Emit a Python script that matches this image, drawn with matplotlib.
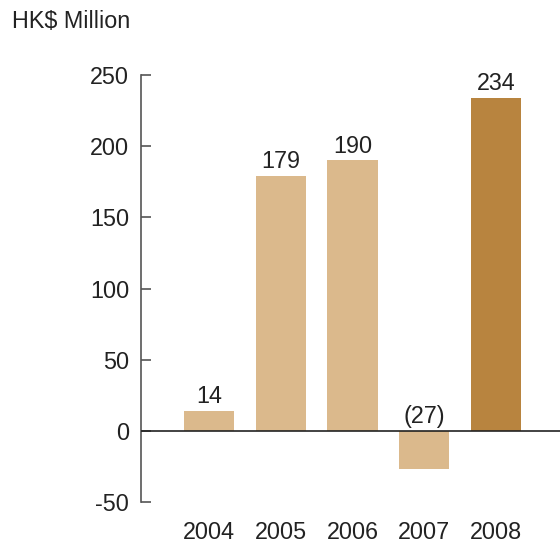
import numpy as np
import matplotlib
matplotlib.use("Agg")
import matplotlib.pyplot as plt

# data
years = ["2004", "2005", "2006", "2007", "2008"]
values = [14, 179, 190, -27, 234]
labels = ["14", "179", "190", "(27)", "234"]
colors = ["#DBB98C", "#DBB98C", "#DBB98C", "#DBB98C", "#B8843F"]
yticks = [-50, 0, 50, 100, 150, 200, 250]

plt.rcParams['font.family'] = ['Liberation Sans', 'DejaVu Sans']
fs = 16.8

fig = plt.figure(figsize=(5.6, 5.43), dpi=100)
ax = fig.add_axes([141/560, 41/543, 419/560, 427/543])

x = np.arange(len(years))
ax.bar(x, values, width=0.70, color=colors, edgecolor="none", zorder=2)

# zero line
ax.axhline(0, color="#222222", lw=1.2, zorder=3)

# value labels
for xi, v, lab in zip(x, values, labels):
    yv = max(v, 0)
    ax.annotate(lab, (xi, yv), xytext=(0, 2), textcoords="offset points",
                ha="center", va="bottom", fontsize=fs, color="#222222")

ax.set_xlim(-0.948, 4.892)
ax.set_ylim(-50, 250)
ax.set_yticks(yticks)
ax.set_yticklabels([str(t) for t in yticks], fontsize=fs, color="#222222")
ax.tick_params(axis="y", direction="in", length=7.5, width=1.2,
               color="#555555", pad=8.5)

ax.set_xticks(x)
ax.set_xticklabels(years, fontsize=fs, color="#222222")
ax.tick_params(axis="x", length=0, pad=13.5)

for s in ["top", "right", "bottom"]:
    ax.spines[s].set_visible(False)
ax.spines["left"].set_color("#555555")
ax.spines["left"].set_linewidth(1.2)

fig.text(12/560, 1 - 22/543, "HK$ Million", fontsize=fs, color="#222222",
         ha="left", va="center")

fig.savefig("out.png", dpi=100)
